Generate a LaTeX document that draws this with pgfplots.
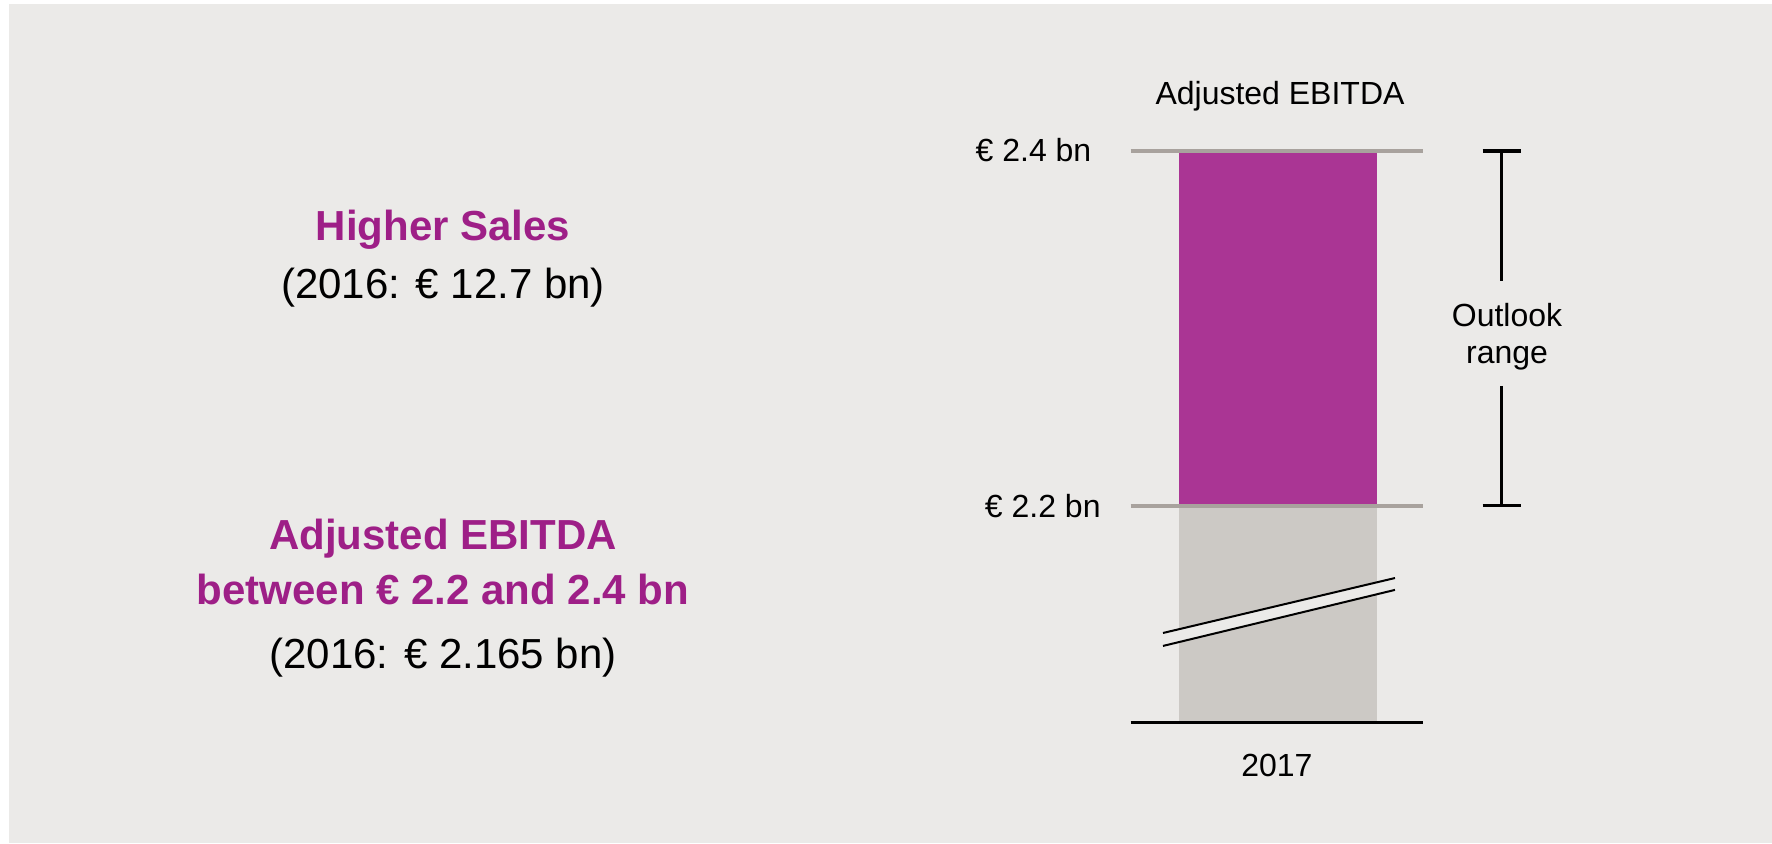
\documentclass[border=0pt]{standalone}
\usepackage{pgfplots}
\pgfplotsset{compat=1.18}
\usepackage{fontspec}
\setmainfont{Liberation Sans}

\definecolor{bg}{HTML}{EBEAE8}
\definecolor{barmag}{HTML}{AA3594}
\definecolor{bargray}{HTML}{CCC9C5}
\definecolor{linegray}{HTML}{A8A29D}
\definecolor{txtmag}{HTML}{9E1F87}

\newcommand\bigtxt{\fontsize{21}{25}\selectfont}
\newcommand\smalltxt{\fontsize{16}{19}\selectfont}

\begin{document}
\begin{tikzpicture}
% background, in pixel units (1 px = 0.5pt, y downwards)
\begin{scope}[x=0.5pt,y=-0.5pt]
  \useasboundingbox (0,0) rectangle (1772,843);
  \fill[white] (0,0) rectangle (1772,843);
  \fill[bg] (9,4) rectangle (1772,843);
\end{scope}

\begin{axis}[
  at={(565.35pt,-361.35pt)}, anchor=south west,
  scale only axis, width=146.15pt, height=285.85pt,
  xmin=-0.5, xmax=0.5, ymin=2.0776, ymax=2.4,
  axis line style={draw=none},
  clip mode=individual,
  major tick length=0pt,
  ytick=\empty,
  xtick={0}, xticklabels={\mbox{2017}},
  xticklabel style={anchor=base, yshift=-27pt, inner sep=0pt, font=\smalltxt},
  /pgf/number format/assume math mode=true,
  ybar, bar width=99pt, bar shift=0.6pt,
]
  % outlook: upper end of range
  \addplot[fill=barmag, draw=none] coordinates {(0,2.4)};
  % lower end of range (axis is broken below)
  \addplot[fill=bargray, draw=none] coordinates {(0,2.2)};

  % reference lines and baseline
  \draw[linegray, line width=2pt] (axis cs:-0.5,2.4) -- (axis cs:0.5,2.4);
  \draw[linegray, line width=2pt] (axis cs:-0.5,2.2) -- (axis cs:0.5,2.2);
  \draw[black, line width=1.5pt] (axis cs:-0.5,2.0776) -- (axis cs:0.5,2.0776);

  % axis break
  \fill[bg] (axis cs:-0.3895,2.1282) -- (axis cs:0.4042,2.1592)
            -- (axis cs:0.4042,2.1525) -- (axis cs:-0.3895,2.1209) -- cycle;
  \draw[black, line width=1pt] (axis cs:-0.3895,2.1282) -- (axis cs:0.4042,2.1592);
  \draw[black, line width=1pt] (axis cs:-0.3895,2.1209) -- (axis cs:0.4042,2.1525);

  % outlook range bracket
  \draw[black, line width=1.8pt] (axis cs:0.704,2.4) -- (axis cs:0.834,2.4);
  \draw[black, line width=1.8pt] (axis cs:0.704,2.2) -- (axis cs:0.834,2.2);
  \draw[black, line width=1.8pt] (axis cs:0.769,2.4) -- (axis cs:0.769,2.3269);
  \draw[black, line width=1.8pt] (axis cs:0.769,2.2675) -- (axis cs:0.769,2.2);
\end{axis}

% texts, in pixel units
\begin{scope}[x=0.5pt,y=-0.5pt, every node/.style={inner sep=0pt}]
  \node[anchor=base, font=\smalltxt] at (1280,104) {Adjusted EBITDA};
  \node[anchor=base east, font=\smalltxt] at (1091.7,161) {€ 2.4 bn};
  \node[anchor=base east, font=\smalltxt] at (1101,517.7) {€ 2.2 bn};
  \node[anchor=base, font=\smalltxt] at (1507,326.7) {Outlook};
  \node[anchor=base, font=\smalltxt] at (1507,363) {range};

  \node[anchor=base, font=\bigtxt\bfseries, text=txtmag] at (443,240) {Higher Sales};
  \node[anchor=base, font=\bigtxt] at (443,298) {(2016: € 12.7 bn)};
  \node[anchor=base, font=\bigtxt\bfseries, text=txtmag] at (443,549) {Adjusted EBITDA};
  \node[anchor=base, font=\bigtxt\bfseries, text=txtmag] at (443,604.5) {between € 2.2 and 2.4 bn};
  \node[anchor=base, font=\bigtxt] at (443,668) {(2016: € 2.165 bn)};
\end{scope}
\end{tikzpicture}
\end{document}
